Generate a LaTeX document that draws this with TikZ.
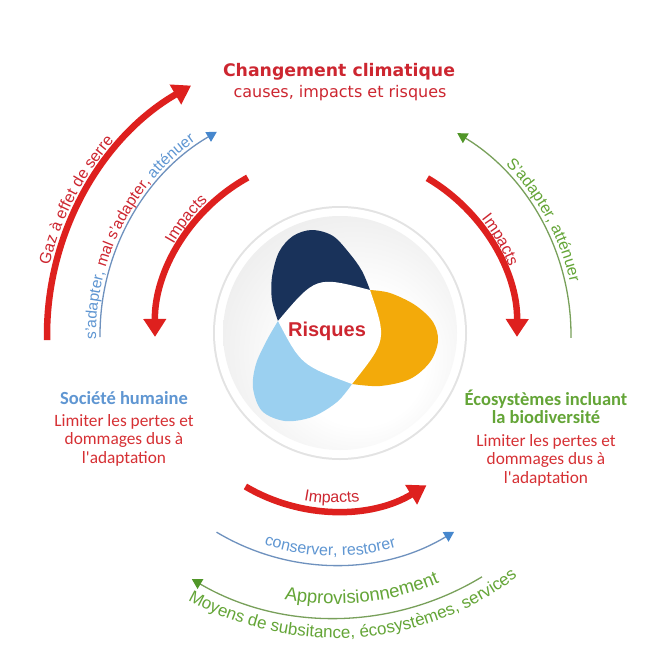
\documentclass[tikz,border=0pt]{standalone}
\usepackage{fontspec}
\setmainfont{Liberation Sans}
\newfontfamily\titlefont{DejaVu Sans}
\newfontfamily\calfont{Carlito}
\usetikzlibrary{arrows.meta,decorations.text}
\definecolor{cred}{RGB}{222,32,30}
\definecolor{tred}{RGB}{205,38,48}
\definecolor{lred}{RGB}{214,48,52}
\definecolor{tblue}{RGB}{95,150,210}
\definecolor{lblue}{RGB}{110,145,190}
\definecolor{hblue}{RGB}{70,135,205}
\definecolor{tgreen}{RGB}{100,165,55}
\definecolor{lgreen}{RGB}{120,160,90}
\definecolor{hgreen}{RGB}{80,150,40}
\definecolor{navy}{RGB}{25,50,90}
\definecolor{orng}{RGB}{243,170,10}
\definecolor{skyb}{RGB}{155,208,240}
\pgfdeclareradialshading{outerdisk}{\pgfpoint{0bp}{0bp}}{color(0bp)=(white); color(36bp)=(white); color(45bp)=(gray!7); color(50bp)=(gray!16)}
\pgfdeclareradialshading{innerdisk}{\pgfpoint{6bp}{-8bp}}{color(0bp)=(white); color(14bp)=(white); color(40bp)=(gray!22); color(50bp)=(gray!36)}
\newcommand\myarcfont{\fontsize{16}{16}\selectfont}
\begin{document}
\begin{tikzpicture}[x=1pt,y=1pt,
  redarc/.style={draw=cred, line width=6.5pt, -{Triangle[length=18pt,width=22pt]}},
  bluearc/.style={draw=lblue, line width=1.3pt, -{Triangle[length=10pt,width=11pt,color=hblue]}},
  greenarc/.style={draw=lgreen, line width=1.3pt, -{Triangle[length=10pt,width=11pt,color=hgreen]}},
  arctext/.style={decorate, decoration={text along path, text align=center, text={#1}}},
  headL/.style={font=\calfont\bfseries\fontsize{18.5}{20}\selectfont, anchor=base},
  bodyL/.style={font=\calfont\fontsize{17.3}{19}\selectfont, text=lred, anchor=base}]
\useasboundingbox (0,0) rectangle (659,-656);
\fill[white] (0,0) rectangle (659,-656);
\coordinate (C) at (335,-335);
\coordinate (IC) at (340,-333);
\coordinate (OC) at (333,-333);
% outer disk
\shade[shading=outerdisk] (OC) circle[radius=326];
% inner disk
\fill[gray!22] (IC) circle[radius=127];
\fill[white] (IC) circle[radius=125];
\shade[shading=innerdisk] (IC) circle[radius=117];
% petals
\fill[navy] plot[smooth, tension=0.55] coordinates {(278,-321) (272,-300) (272,-277) (279,-252) (293,-236) (312,-230) (333,-236) (350,-254) (362,-271) (370,-290)} -- (330,-330) -- cycle;
\fill[orng] plot[smooth, tension=0.55] coordinates {(370,-290) (390,-293) (415,-305) (433,-322) (438,-341) (430,-362) (410,-379) (380,-386) (352,-384)} -- (330,-330) -- cycle;
\fill[skyb] plot[smooth, tension=0.55] coordinates {(352,-384) (337,-402) (312,-417) (285,-421) (262,-411) (253,-388) (256,-364) (267,-340) (278,-321)} -- (330,-330) -- cycle;
\fill[white] (370,-290) .. controls (387,-340) .. (352,-384) .. controls (301,-365) .. (278,-321) .. controls (316,-276) .. (370,-290) -- cycle;
\node[font=\bfseries\fontsize{20}{20}\selectfont, text=tred] (risk) at (327,-331) {Risques};
% title
\node[font=\titlefont\bfseries\fontsize{17.3}{20}\selectfont, text=tred, anchor=base] (title) at (339,-76) {Changement climatique};
\node[font=\titlefont\fontsize{16}{18}\selectfont, text=tred, anchor=base] (subtitle) at (340,-97.5) {causes, impacts et risques};
% left block
\node[headL, text=tblue] (soc) at (124,-404) {Société humaine};
\node[bodyL] (socA) at (124,-426) {Limiter les pertes et};
\node[bodyL] (socB) at (124,-444.5) {dommages dus à};
\node[bodyL] (socC) at (124,-463) {l'adaptation};
% right block
\node[headL, text=tgreen] (eco) at (546,-405) {Écosystèmes incluant};
\node[headL, text=tgreen] (ecoB) at (546,-423.5) {la biodiversité};
\node[bodyL] (ecoC) at (546,-446) {Limiter les pertes et};
\node[bodyL] (ecoD) at (546,-464.5) {dommages dus à};
\node[bodyL] (ecoE) at (546,-483) {l'adaptation};
% arcs
\draw[redarc] ([shift={(181:288)}]C) arc[start angle=181, end angle=120, radius=288];
\draw[bluearc] ([shift={(180.5:235)}]C) arc[start angle=180.5, end angle=120.2, radius=235];
\draw[redarc] ([shift={(119:180)}]C) arc[start angle=119, end angle=180.6, radius=180];
\draw[redarc] ([shift={(59.5:182)}]C) arc[start angle=59.5, end angle=-0.6, radius=182];
\draw[greenarc] ([shift={(-0.7:236)}]C) arc[start angle=-0.7, end angle=58.8, radius=236];
\draw[redarc] ([shift={(239.4:176)}]C) arc[start angle=239.4, end angle=301.3, radius=176];
\draw[white, line width=15pt, line cap=round, opacity=0.8] ([shift={(252:215)}]C) arc[start angle=252, end angle=290, radius=215];
\draw[bluearc] ([shift={(239:230)}]C) arc[start angle=239, end angle=301.2, radius=230];
\draw[greenarc] ([shift={(301.3:283)}]C) arc[start angle=301.3, end angle=239.6, radius=283];
% arc texts
\path[arctext={|\myarcfont\color{tred}|Gaz à effet de serre}] ([shift={(180:294)}]C) arc[start angle=180, end angle=125, radius=294];
\path[arctext={|\fontsize{15.5}{15.5}\selectfont\color{tblue}|s'adapter, |\fontsize{15.5}{15.5}\selectfont\color{tred}|mal s'adapter, |\fontsize{15.5}{15.5}\selectfont\color{tblue}|atténuer}] ([shift={(185:239)}]C) arc[start angle=185, end angle=121.8, radius=239];
\path[arctext={|\myarcfont\color{tred}|Impacts}] ([shift={(165:185)}]C) arc[start angle=165, end angle=119.2, radius=185];
\path[arctext={|\myarcfont\color{tred}|Impacts}] ([shift={(55:187)}]C) arc[start angle=55, end angle=4.8, radius=187];
\path[arctext={|\myarcfont\color{tgreen}|S'adapter, atténuer}] ([shift={(60:241)}]C) arc[start angle=60, end angle=-2.4, radius=241];
\path[arctext={|\myarcfont\color{tred}|Impacts}] ([shift={(230:168)}]C) arc[start angle=230, end angle=307.8, radius=168];
\path[arctext={|\myarcfont\color{tblue}|conserver, restorer}] ([shift={(230:221)}]C) arc[start angle=230, end angle=307.4, radius=221];
\path[arctext={|\fontsize{18.5}{18.5}\selectfont\color{tgreen}|Approvisionnement}] ([shift={(240:269)}]C) arc[start angle=240, end angle=312, radius=269];
\path[arctext={|\fontsize{17}{17}\selectfont\color{tgreen}|Moyens de subsitance, écosystèmes, services}] ([shift={(215:303)}]C) arc[start angle=215, end angle=333, radius=303];
\end{tikzpicture}
\end{document}
